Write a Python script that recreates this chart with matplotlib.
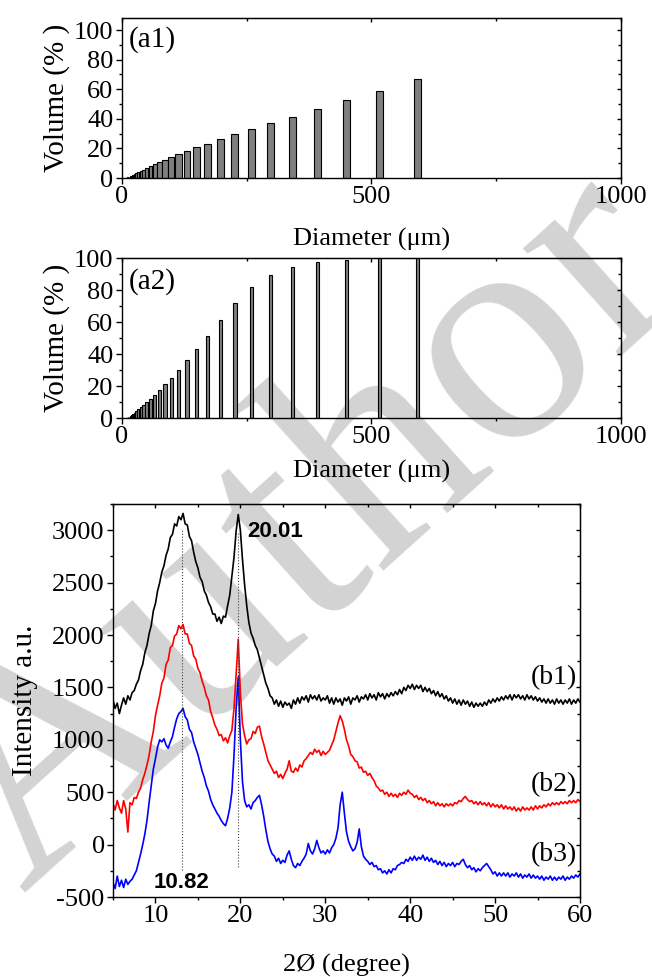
"""Particle size distributions (a1, a2) and XRD patterns (b1-b3)."""

import numpy as np
import matplotlib
matplotlib.use('Agg')
import matplotlib.pyplot as plt
from matplotlib.ticker import MultipleLocator

plt.rcParams['font.family'] = ['Liberation Serif', 'DejaVu Serif']
plt.rcParams['axes.unicode_minus'] = False

# ---- data: particle size (diameter bins in um, volume %) ----
diameter = [8.43, 9.67, 11.1, 12.7, 14.6, 16.7, 19.2, 22.0, 25.2, 28.9, 33.2,
            38.1, 43.7, 50.1, 57.5, 65.9, 75.6, 86.7, 99.5, 114.1, 130.9,
            150.1, 172.2, 197.5, 226.6, 259.9, 298.1, 342.0, 392.3, 450.0,
            516.0, 592.0]
volume_a1 = [0.1, 0.2, 0.4, 0.6, 0.9, 1.2, 1.6, 2.0, 2.5, 3.1, 3.8,
             4.6, 5.6, 6.7, 7.8, 9.2, 10.5, 12.5, 14.3, 16.3, 18.3,
             20.8, 23.3, 26.3, 29.5, 33.3, 37.1, 41.4, 46.5, 52.6,
             59.1, 66.7]
volume_a2 = [0.05, 0.1, 0.2, 0.4, 0.7, 1.0, 1.7, 2.5, 3.3, 4.2, 5.4,
             6.7, 8.3, 10.0, 11.9, 14.2, 17.3, 21.0, 25.2, 30.3, 36.3,
             43.0, 51.5, 61.0, 71.9, 81.7, 89.2, 94.2, 97.3, 98.6,
             99.7, 100.0]

# ---- data: XRD, 2theta scan from 5 to 60 deg in 0.25 deg steps ----
two_theta = np.arange(5.0, 60.001, 0.25)
b1 = [
    1380, 1300, 1350, 1250, 1330, 1400, 1340, 1420,   # 5-7
    1380, 1450, 1470, 1530, 1570, 1660, 1720, 1830,   # 7-9
    1900, 2010, 2090, 2230, 2300, 2420, 2500, 2600,   # 9-11
    2660, 2760, 2820, 2930, 2960, 3060, 3040, 3130,   # 11-13
    3100, 3160, 3060, 3050, 2940, 2900, 2790, 2700,   # 13-15
    2640, 2550, 2510, 2420, 2380, 2310, 2270, 2200,   # 15-17
    2200, 2130, 2170, 2110, 2180, 2170, 2280, 2380,   # 17-19
    2560, 2740, 2990, 3150, 3000, 2720, 2480, 2280,   # 19-21
    2120, 2020, 1970, 1900, 1860, 1780, 1700, 1620,   # 21-23
    1540, 1490, 1420, 1400, 1340, 1380, 1320, 1370,   # 23-25
    1310, 1360, 1330, 1350, 1300, 1380, 1340, 1400,   # 25-27
    1350, 1410, 1380, 1420, 1360, 1430, 1390, 1420,   # 27-29
    1380, 1430, 1370, 1400, 1380, 1420, 1350, 1400,   # 29-31
    1340, 1400, 1360, 1390, 1330, 1400, 1370, 1410,   # 31-33
    1340, 1400, 1380, 1420, 1360, 1410, 1390, 1430,   # 33-35
    1380, 1440, 1400, 1430, 1380, 1450, 1410, 1440,   # 35-37
    1390, 1440, 1410, 1450, 1420, 1460, 1430, 1480,   # 37-39
    1440, 1500, 1470, 1520, 1490, 1530, 1480, 1520,   # 39-41
    1490, 1520, 1460, 1500, 1460, 1490, 1440, 1470,   # 41-43
    1420, 1460, 1410, 1440, 1390, 1420, 1370, 1400,   # 43-45
    1350, 1390, 1340, 1380, 1330, 1380, 1340, 1370,   # 45-47
    1320, 1360, 1310, 1350, 1320, 1350, 1320, 1360,   # 47-49
    1330, 1380, 1350, 1390, 1360, 1400, 1370, 1410,   # 49-51
    1380, 1420, 1390, 1430, 1380, 1430, 1400, 1430,   # 51-53
    1390, 1420, 1380, 1430, 1390, 1420, 1380, 1410,   # 53-55
    1370, 1400, 1360, 1390, 1350, 1390, 1350, 1380,   # 55-57
    1340, 1390, 1350, 1380, 1340, 1380, 1350, 1390,   # 57-59
    1340, 1380, 1350, 1390, 1360,                     # 59-60
]
b2 = [
    390, 330, 420, 350, 300, 420, 340, 120,           # 5-7
    400, 380, 450, 440, 500, 540, 620, 680,           # 7-9
    760, 850, 980, 1080, 1230, 1330, 1420, 1540,      # 9-11
    1590, 1720, 1760, 1880, 1900, 1990, 2010, 2090,   # 11-13
    2060, 2100, 2010, 2010, 1920, 1900, 1800, 1770,   # 13-15
    1680, 1640, 1560, 1500, 1420, 1380, 1270, 1210,   # 15-17
    1140, 1100, 1040, 1050, 990, 1020, 970, 1040,     # 17-19
    1090, 1300, 1620, 1960, 1450, 1150, 1040, 960,    # 19-21
    1000, 1010, 1080, 1060, 1120, 1130, 1030, 960,    # 21-23
    880, 800, 760, 720, 680, 700, 640, 670,           # 23-25
    630, 680, 720, 800, 700, 690, 730, 700,           # 25-27
    760, 740, 800, 820, 850, 880, 860, 910,           # 27-29
    880, 900, 850, 890, 860, 880, 900, 950,           # 29-31
    1000, 1080, 1160, 1230, 1180, 1100, 1000, 940,    # 31-33
    860, 840, 800, 790, 730, 740, 690, 700,           # 33-35
    660, 680, 640, 610, 560, 540, 510, 520,           # 35-37
    480, 500, 460, 490, 460, 480, 450, 490,           # 37-39
    470, 500, 480, 520, 490, 480, 450, 470,           # 39-41
    430, 450, 420, 440, 400, 420, 390, 410,           # 41-43
    370, 400, 370, 390, 360, 390, 370, 390,           # 43-45
    370, 400, 390, 420, 410, 440, 460, 430,           # 45-47
    410, 420, 390, 410, 380, 410, 380, 400,           # 47-49
    370, 400, 360, 390, 360, 380, 350, 380,           # 49-51
    340, 370, 340, 360, 330, 360, 320, 350,           # 51-53
    320, 360, 330, 350, 330, 360, 330, 370,           # 53-55
    340, 370, 350, 380, 360, 390, 370, 400,           # 55-57
    380, 400, 380, 410, 390, 410, 390, 420,           # 57-59
    400, 420, 400, 430, 410,                          # 59-60
]
b3 = [
    -360, -420, -300, -400, -340, -410, -330, -380,   # 5-7
    -350, -330, -290, -250, -170, -90, 0, 100,        # 7-9
    230, 400, 560, 720, 820, 930, 1000, 980,          # 9-11
    1010, 950, 920, 980, 1030, 1120, 1200, 1250,      # 11-13
    1270, 1300, 1220, 1190, 1100, 1070, 980, 920,     # 13-15
    860, 780, 700, 640, 560, 510, 430, 380,           # 15-17
    340, 300, 270, 230, 200, 180, 250, 350,           # 17-19
    500, 850, 1300, 1600, 1000, 600, 420, 360,        # 19-21
    380, 340, 400, 420, 450, 470, 380, 270,           # 21-23
    140, 30, -40, -90, -110, -160, -130, -180,        # 23-25
    -150, -170, -100, -60, -140, -200, -220, -180,    # 25-27
    -200, -160, -130, -90, 10, -60, -90, -40,         # 27-29
    40, -30, -80, -60, -90, -50, -80, -30,            # 29-31
    0, 60, 160, 380, 500, 300, 120, 30,               # 31-33
    -20, -60, -40, 20, 150, -20, -110, -140,          # 33-35
    -160, -190, -170, -210, -200, -240, -230, -270,   # 35-37
    -250, -280, -240, -270, -230, -240, -200, -190,   # 37-39
    -170, -180, -140, -160, -120, -150, -110, -150,   # 39-41
    -120, -140, -100, -150, -120, -160, -130, -170,   # 41-43
    -150, -190, -160, -200, -170, -210, -180, -200,   # 43-45
    -170, -210, -180, -190, -160, -140, -190, -220,   # 45-47
    -200, -240, -220, -260, -230, -250, -220, -200,   # 47-49
    -180, -210, -240, -280, -260, -300, -270, -300,   # 49-51
    -270, -300, -270, -310, -280, -300, -270, -310,   # 51-53
    -280, -320, -290, -310, -280, -320, -290, -320,   # 53-55
    -300, -330, -300, -340, -310, -330, -300, -340,   # 55-57
    -310, -340, -310, -330, -300, -340, -310, -330,   # 57-59
    -300, -320, -290, -310, -280,                     # 59-60
]
peak_pos = [13.1, 19.7]
peak_top = [3010, 2980]
peak_bottom = [-240, -210]

W, H = 652, 977
fig = plt.figure(figsize=(W / 100, H / 100), dpi=100)
fig.patch.set_facecolor('white')

# watermark behind everything
fig.text(0.472, 0.455, 'Author', fontsize=230, color='#d3d3d3', rotation=42,
         ha='center', va='center', rotation_mode='anchor', zorder=-5,
         family='Liberation Serif')

FS = 19


def px_axes(left, top, right, bottom):
    return fig.add_axes([left / W, 1 - bottom / H, (right - left) / W, (bottom - top) / H])


def style_axes(ax):
    ax.set_facecolor('none')
    for s in ax.spines.values():
        s.set_linewidth(1.0)
    ax.tick_params(which='both', direction='out', labelsize=FS, width=1.0, pad=2)
    ax.tick_params(which='major', length=4)
    ax.tick_params(which='minor', length=2.5)
    top = ax.secondary_xaxis('top')
    top.tick_params(which='both', direction='in', labeltop=False, width=1.0)
    top.tick_params(which='major', length=3)
    top.tick_params(which='minor', length=2)
    right = ax.secondary_yaxis('right')
    right.tick_params(which='both', direction='in', labelright=False, width=1.0)
    right.tick_params(which='major', length=3)
    right.tick_params(which='minor', length=2)
    return top, right


def bar_panel(ax, vol, max_w, ymax, tag, tag_y, xpad):
    d = np.array(diameter)
    gaps = np.diff(np.concatenate([[0.0], d]))
    widths = np.minimum(max_w, 0.95 * gaps)
    ax.bar(d, vol, width=widths, color='#7f7f7f', edgecolor='black', linewidth=0.8)
    ax.set_xlim(0, 1000)
    ax.set_ylim(0, ymax)
    top, right = style_axes(ax)
    for a in (ax.xaxis, top.xaxis):
        a.set_major_locator(MultipleLocator(500))
        a.set_minor_locator(MultipleLocator(250))
    for a in (ax.yaxis, right.yaxis):
        a.set_major_locator(MultipleLocator(20))
        a.set_minor_locator(MultipleLocator(10))
    ax.set_xlabel('Diameter (μm)', fontsize=FS, labelpad=xpad)
    ax.set_ylabel('Volume (% )', fontsize=21, labelpad=3)
    ax.text(0.015, tag_y, tag, transform=ax.transAxes, fontsize=21, va='top', ha='left')


# (a1)
ax1 = px_axes(121.7, 18.3, 621, 178)
bar_panel(ax1, volume_a1, 13.5, 108, '(a1)', 0.95, 14)

# (a2)
ax2 = px_axes(121.7, 258, 621, 418)
bar_panel(ax2, volume_a2, 6.7, 100, '(a2)', 0.94, 8)

# (b) XRD
ax3 = px_axes(113, 504, 580, 897)
ax3.plot(two_theta, b1, color='black', linewidth=1.2)
ax3.plot(two_theta, b2, color='red', linewidth=1.2)
ax3.plot(two_theta, b3, color='blue', linewidth=1.2)
ax3.vlines(peak_pos, peak_bottom, peak_top, colors='#444444', linestyles=':', linewidth=0.8)
ax3.set_xlim(5, 60)
ax3.set_ylim(-500, 3250)
top, right = style_axes(ax3)
for a in (ax3.xaxis, top.xaxis):
    a.set_major_locator(MultipleLocator(10))
    a.set_minor_locator(MultipleLocator(5))
for a in (ax3.yaxis, right.yaxis):
    a.set_major_locator(MultipleLocator(500))
    a.set_minor_locator(MultipleLocator(250))
ax3.set_xlabel('2Ø (degree)', fontsize=FS, labelpad=19)
ax3.set_ylabel('Intensity a.u.', fontsize=21, labelpad=10)

ax3.text(20.8, 2990, '20.01', fontsize=16, fontweight='bold', family='Liberation Sans',
         ha='left', va='center')
ax3.text(9.8, -360, '10.82', fontsize=16, fontweight='bold', family='Liberation Sans',
         ha='left', va='center')
ax3.text(59.7, 1590, '(b1)', fontsize=20, ha='right', va='center')
ax3.text(59.7, 570, '(b2)', fontsize=20, ha='right', va='center')
ax3.text(59.7, -100, '(b3)', fontsize=20, ha='right', va='center')

plt.savefig('out.png', dpi=100)
plt.close()
